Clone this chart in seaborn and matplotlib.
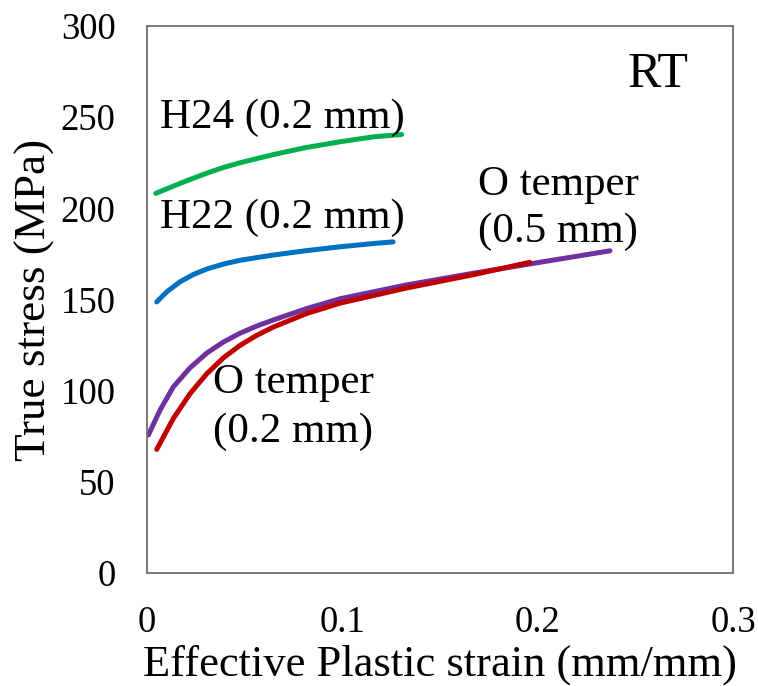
import matplotlib
matplotlib.use("Agg")
import matplotlib.pyplot as plt
import seaborn as sns
import pandas as pd

# Flow curves at room temperature: effective plastic strain vs true stress
h24_strain = [0.0045, 0.0135, 0.022, 0.0306, 0.0391, 0.0476, 0.0647, 0.0817, 0.0988, 0.1158, 0.1304]
h24_stress = [208.2, 212.2, 215.8, 219.3, 222.4, 225.0, 229.5, 233.4, 236.5, 239.2, 240.5]

h22_strain = [0.005, 0.0101, 0.0169, 0.0237, 0.0306, 0.039, 0.0476, 0.0647, 0.0817, 0.0988, 0.1158, 0.126]
h22_stress = [148.7, 154.2, 159.7, 163.7, 166.7, 169.4, 171.5, 174.4, 176.8, 178.9, 180.7, 181.6]

o05_strain = [0.0007, 0.0067, 0.0135, 0.022, 0.0306, 0.039, 0.0476, 0.0561, 0.0647, 0.0817, 0.0988, 0.1329, 0.167, 0.2011, 0.237]
o05_stress = [75.7, 89.4, 102.1, 112.5, 120.6, 126.6, 131.5, 135.4, 138.8, 145.0, 150.4, 158.0, 164.4, 170.4, 176.7]

o02_strain = [0.005, 0.0135, 0.022, 0.0306, 0.0391, 0.0476, 0.0561, 0.0647, 0.0817, 0.0988, 0.1329, 0.167, 0.196]
o02_stress = [67.8, 84.8, 98.3, 109.3, 118.0, 124.8, 130.3, 134.9, 142.3, 148.0, 156.3, 163.6, 170.4]

series_names = ["H24 (0.2 mm)", "H22 (0.2 mm)", "O temper (0.5 mm)", "O temper (0.2 mm)"]
series_colors = ["#00B050", "#0070C0", "#7030A0", "#C00000"]

x_ticks = [0, 0.1, 0.2, 0.3]
x_tick_labels = ["0", "0.1", "0.2", "0.3"]
y_ticks = [0, 50, 100, 150, 200, 250, 300]

frames = []
for name, xs, ys in zip(series_names,
                        [h24_strain, h22_strain, o05_strain, o02_strain],
                        [h24_stress, h22_stress, o05_stress, o02_stress]):
    frames.append(pd.DataFrame({"strain": xs, "stress": ys, "series": name}))
df = pd.concat(frames, ignore_index=True)

sns.set_theme(style="white")
plt.rcParams["font.family"] = ["Liberation Serif", "DejaVu Serif"]
plt.rcParams["text.color"] = "black"
plt.rcParams["axes.labelcolor"] = "black"

fig = plt.figure(figsize=(7.58, 6.86), dpi=100)
ax = fig.add_axes([147 / 758, 1 - 573 / 686, (733 - 147) / 758, (573 - 26) / 686])

for name, color in zip(series_names, series_colors):
    sub = df[df["series"] == name]
    sns.lineplot(data=sub, x="strain", y="stress", ax=ax, color=color,
                 linewidth=3.6, sort=False, estimator=None, legend=False,
                 solid_capstyle="round", solid_joinstyle="round")

ax.set_xlim(0, 0.3)
ax.set_ylim(0, 300)
ax.set_xticks(x_ticks)
ax.set_xticklabels(x_tick_labels)
ax.set_yticks(y_ticks)

spine_color = "#6e6e6e"
for side in ["left", "right", "top", "bottom"]:
    ax.spines[side].set_visible(True)
    ax.spines[side].set_color(spine_color)
    ax.spines[side].set_linewidth(1.3)

ax.tick_params(axis="both", direction="out", length=8.5, width=1.3,
               color=spine_color, labelsize=26.5, labelcolor="black")
ax.tick_params(axis="x", pad=15)
ax.tick_params(axis="y", pad=14)

ax.set_xlabel("Effective Plastic strain (mm/mm)", fontsize=32, labelpad=3)
ax.set_ylabel("True stress (MPa)", fontsize=32.5, labelpad=4)

text_kw = dict(fontsize=31, color="black")
ax.text(0.246, 273, "RT", ha="left", va="center", fontsize=36, color="black")
ax.text(0.0067, 249.5, "H24 (0.2 mm)", ha="left", va="center", **text_kw)
ax.text(0.0067, 194.6, "H22 (0.2 mm)", ha="left", va="center", **text_kw)
ax.text(0.1695, 212.7, "O temper", ha="left", va="center", **text_kw)
ax.text(0.1695, 187.0, "(0.5 mm)", ha="left", va="center", **text_kw)
ax.text(0.0338, 104.2, "O temper", ha="left", va="center", **text_kw)
ax.text(0.0338, 77.3, "(0.2 mm)", ha="left", va="center", **text_kw)

fig.savefig("out.png", dpi=100)
